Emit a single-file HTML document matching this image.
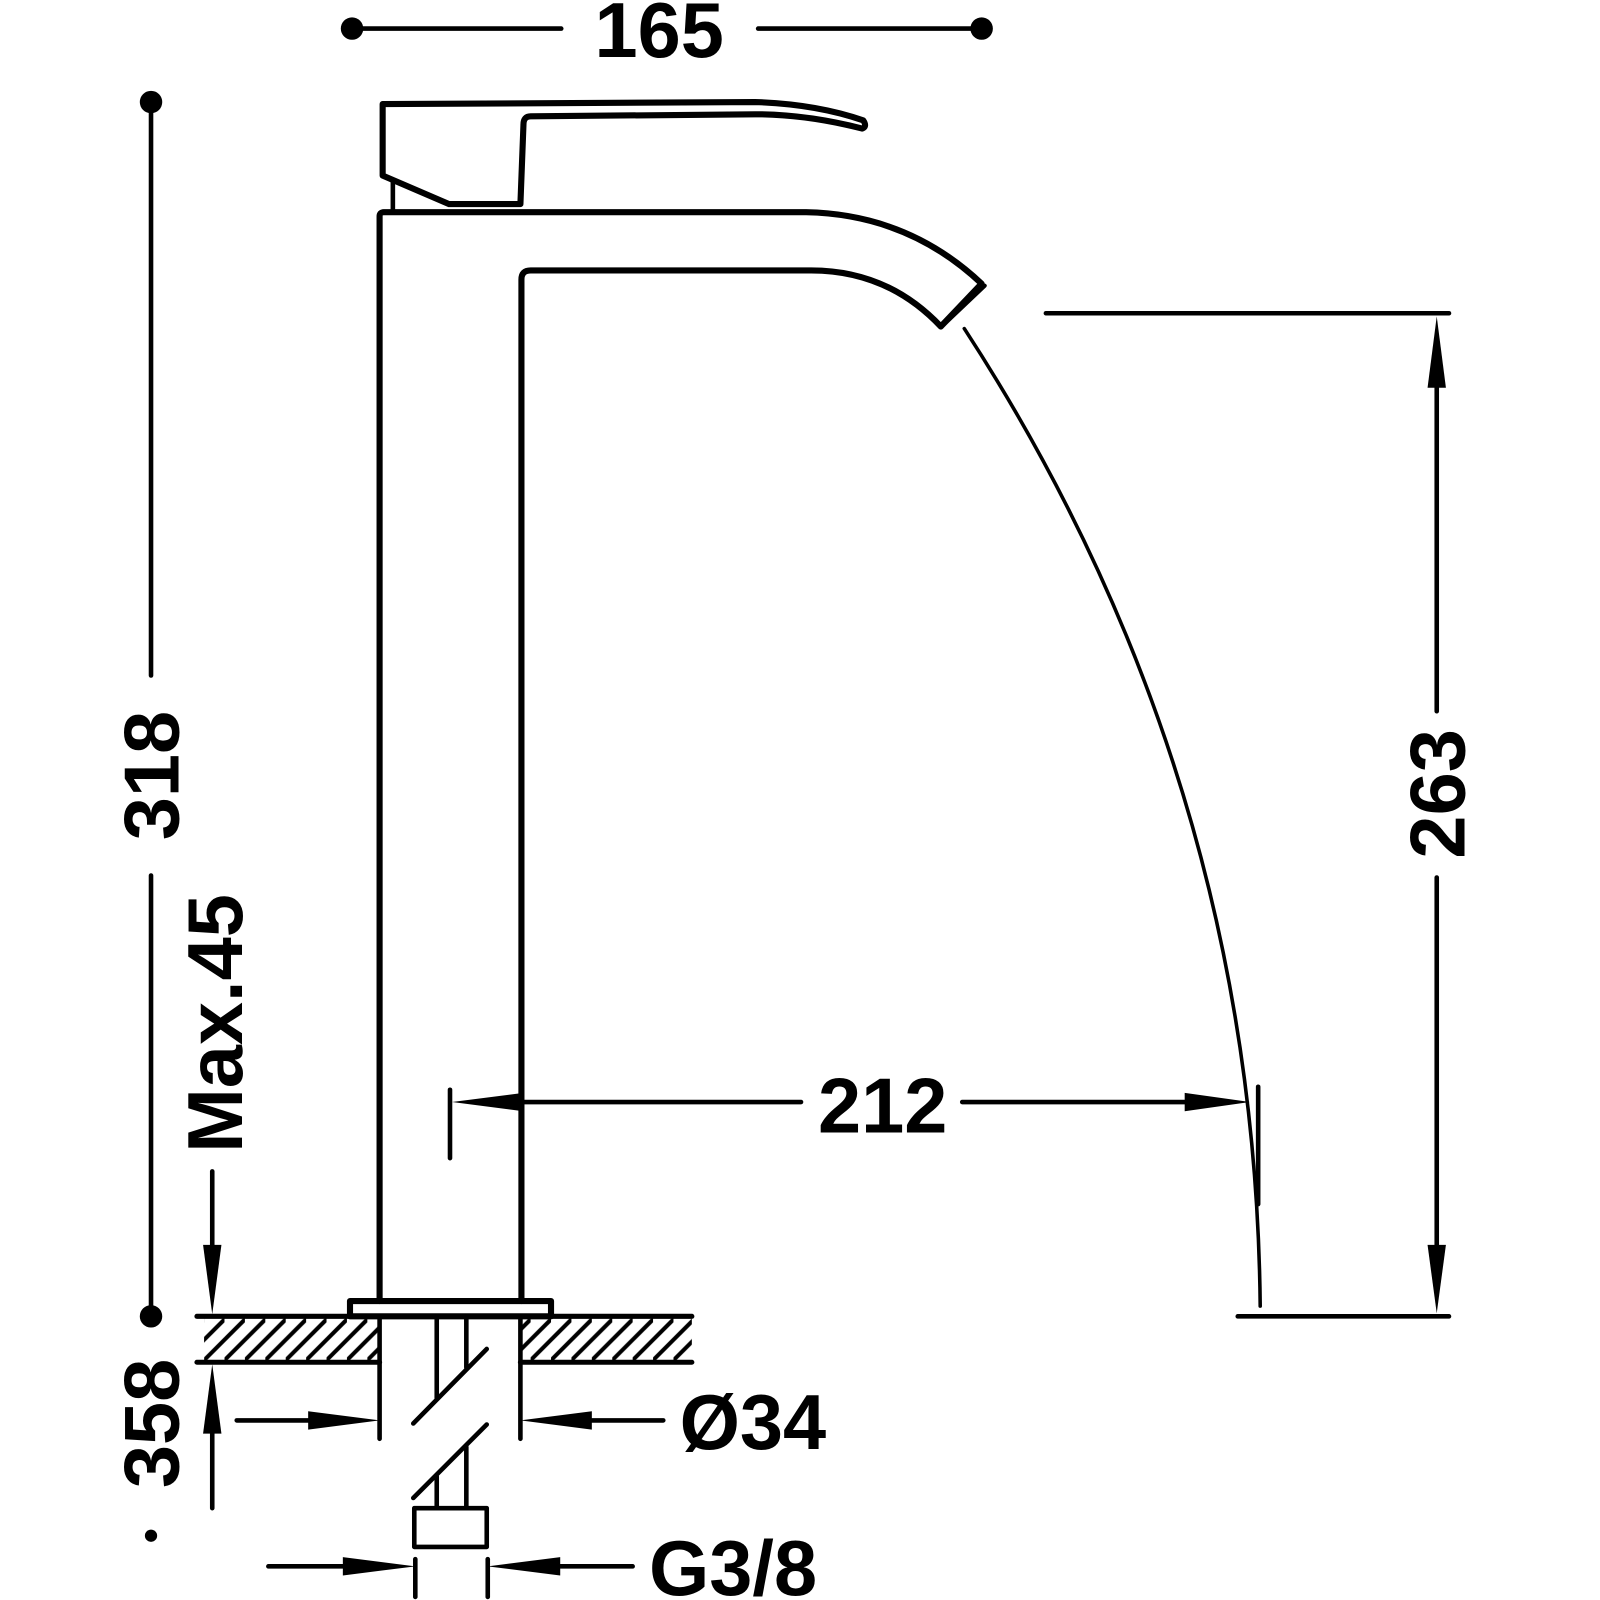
<!DOCTYPE html>
<html><head><style>html,body{margin:0;padding:0;background:#fff}svg{display:block}</style></head><body>
<svg width="1600" height="1600" viewBox="0 0 1568 1568" xmlns="http://www.w3.org/2000/svg">
<defs>
<pattern id="h" patternUnits="userSpaceOnUse" width="20" height="45" patternTransform="translate(0,1290)">
<line x1="-2" y1="45" x2="43" y2="0" stroke="#000" stroke-width="4"/>
<line x1="-22" y1="45" x2="23" y2="0" stroke="#000" stroke-width="4"/>
</pattern>
</defs>
<g stroke="#000" fill="none" stroke-linecap="round" stroke-linejoin="round">
<rect x="200" y="1292" width="172" height="42" fill="url(#h)" stroke="none"/>
<rect x="510" y="1292" width="168" height="42" fill="url(#h)" stroke="none"/>
<line x1="193" y1="1290" x2="678" y2="1290" stroke-width="5"/>
<line x1="193" y1="1335" x2="372" y2="1335" stroke-width="5"/>
<line x1="510" y1="1335" x2="678" y2="1335" stroke-width="5"/>
<line x1="345" y1="28" x2="550" y2="28" stroke-width="4.5"/>
<line x1="743" y1="28" x2="962" y2="28" stroke-width="4.5"/>
<line x1="148" y1="100" x2="148" y2="662" stroke-width="4.5"/>
<line x1="148" y1="858" x2="148" y2="1290" stroke-width="4.5"/>
<line x1="208" y1="1148" x2="208" y2="1230" stroke-width="4.5"/>
<line x1="208" y1="1395" x2="208" y2="1478" stroke-width="4.5"/>
<path d="M372,1275 L372,212 Q372,208 376,208 L790,208 Q890,210 962,278 L922,320 Q870,265 795,265 L520,265 Q511,265 511,274 L511,1275" stroke-width="6"/>
<path d="M925,318 L965,280" stroke-width="4"/>
<rect x="343" y="1275" width="197" height="15" stroke-width="6"/>
<path d="M375,102 L740,100 Q800,102 846,118 Q850,124 845,126 Q790,112 740,112 L520,114 Q513,114 513,122 L510,200 L440,200 L375,172 Z" stroke-width="6"/>
<line x1="385" y1="178" x2="385" y2="208" stroke-width="4.5"/>
<line x1="372" y1="1290" x2="372" y2="1410" stroke-width="4.5"/>
<line x1="510" y1="1290" x2="510" y2="1410" stroke-width="4.5"/>
<line x1="428" y1="1290" x2="428" y2="1370" stroke-width="4.5"/>
<line x1="457" y1="1290" x2="457" y2="1340" stroke-width="4.5"/>
<line x1="405" y1="1395" x2="477" y2="1322" stroke-width="4.5"/>
<line x1="405" y1="1468" x2="477" y2="1396" stroke-width="4.5"/>
<line x1="428" y1="1447" x2="428" y2="1478" stroke-width="4.5"/>
<line x1="457" y1="1418" x2="457" y2="1478" stroke-width="4.5"/>
<rect x="406" y="1478" width="71" height="38" stroke-width="4.5"/>
<line x1="232" y1="1392" x2="310" y2="1392" stroke-width="4.5"/>
<line x1="575" y1="1392" x2="650" y2="1392" stroke-width="4.5"/>
<line x1="407" y1="1528" x2="407" y2="1565" stroke-width="4.5"/>
<line x1="478" y1="1528" x2="478" y2="1565" stroke-width="4.5"/>
<line x1="263" y1="1535" x2="340" y2="1535" stroke-width="4.5"/>
<line x1="545" y1="1535" x2="620" y2="1535" stroke-width="4.5"/>
<line x1="441" y1="1068" x2="441" y2="1135" stroke-width="4.5"/>
<line x1="500" y1="1080" x2="785" y2="1080" stroke-width="4.5"/>
<line x1="943" y1="1080" x2="1170" y2="1080" stroke-width="4.5"/>
<line x1="1233" y1="1065" x2="1233" y2="1180" stroke-width="4.5"/>
<path d="M945,322 Q1230,760 1235,1280" stroke-width="3.5"/>
<line x1="1025" y1="307" x2="1420" y2="307" stroke-width="4.5"/>
<line x1="1213" y1="1290" x2="1420" y2="1290" stroke-width="4.5"/>
<line x1="1408" y1="370" x2="1408" y2="697" stroke-width="4.5"/>
<line x1="1408" y1="860" x2="1408" y2="1225" stroke-width="4.5"/>
</g>
<g fill="#000">
<circle cx="345" cy="28" r="11"/><circle cx="962" cy="28" r="11"/>
<circle cx="148" cy="100" r="11"/><circle cx="148" cy="1290" r="11"/><circle cx="148" cy="1505" r="6"/>
<polygon points="208,1288 199,1220 217,1220"/>
<polygon points="208,1337 199,1405 217,1405"/>
<polygon points="372,1392 302,1383 302,1401"/>
<polygon points="510,1392 580,1383 580,1401"/>
<polygon points="407,1535 336,1526 336,1544"/>
<polygon points="478,1535 549,1526 549,1544"/>
<polygon points="443,1080 513,1071 513,1089"/>
<polygon points="1225,1080 1161,1071 1161,1089"/>
<polygon points="1408,310 1399,380 1417,380"/>
<polygon points="1408,1287 1399,1220 1417,1220"/>
</g>
<g font-family="Liberation Sans, sans-serif" font-weight="bold" font-size="76" fill="#000">
<text x="646" y="56" text-anchor="middle">165</text>
<text x="865" y="1110" text-anchor="middle">212</text>
<text x="666" y="1420">Ø34</text>
<text x="636" y="1563">G3/8</text>
<text transform="translate(175,760) rotate(-90)" text-anchor="middle">318</text>
<text transform="translate(175,1395) rotate(-90)" text-anchor="middle">358</text>
<text transform="translate(237,1003) rotate(-90)" text-anchor="middle">Max.45</text>
<text transform="translate(1435,778) rotate(-90)" text-anchor="middle">263</text>
</g>
</svg>
</body></html>
